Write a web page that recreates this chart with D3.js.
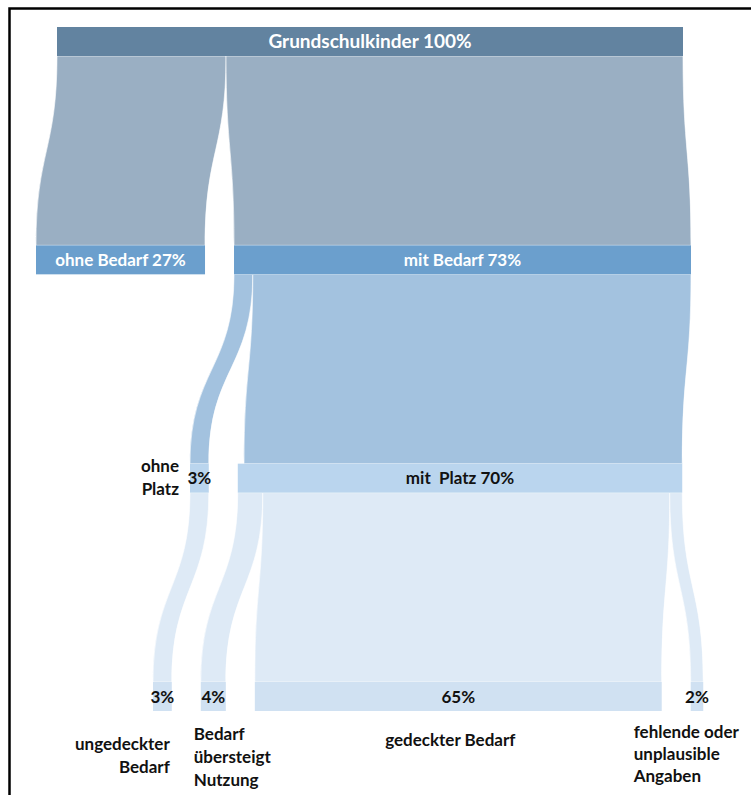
<!DOCTYPE html>
<html>
<head>
<meta charset="utf-8">
<script src="https://cdn.jsdelivr.net/npm/d3@7"></script>
<style>
  html, body { margin: 0; padding: 0; background: #fff; }
  svg { display: block; }
  text { font-family: Lato, "Open Sans", sans-serif; font-weight: 700; }
</style>
</head>
<body>
<script>
// ---------- data ----------
const levels = ["Grundschulkinder", "Bedarf", "Platz", "Ergebnis"];
const nodeNames = ["Grundschulkinder", "ohne Bedarf", "mit Bedarf", "ohne Platz", "mit Platz",
                   "ungedeckter Bedarf", "Bedarf übersteigt Nutzung", "gedeckter Bedarf",
                   "fehlende oder unplausible Angaben"];
const nodeLevel = [0, 1, 1, 2, 2, 3, 3, 3, 3];
const nodeInsideLabels = ["Grundschulkinder 100%", "ohne Bedarf 27%", "mit Bedarf 73%", "3%",
                          "mit  Platz 70%", "3%", "4%", "65%", "2%"];
const linkSource = [0, 0, 2, 2, 3, 4, 4, 4];
const linkTarget = [1, 2, 3, 4, 5, 6, 7, 8];
const linkValues = [27, 73, 3, 70, 3, 4, 65, 2];

// outer labels (multi-line)
const outerLabels = [
  { node: 3, lines: ["ohne", "Platz"] },
  { node: 5, lines: ["ungedeckter", "Bedarf"] },
  { node: 6, lines: ["Bedarf", "übersteigt", "Nutzung"] },
  { node: 7, lines: ["gedeckter Bedarf"] },
  { node: 8, lines: ["fehlende oder", "unplausible", "Angaben"] }
];

// ---------- layout / style ----------
const W = 751, H = 795;
const rowStart = [57, 36, 190, 153];
const nodeGap = 29;
const nodeH = 29;
const nodeColors = ["#6283A0", "#6B9FCD", "#BAD5EE", "#D0E1F2"];
const linkColors = ["#9AAFC3", "#A3C2DF", "#DEEAF6"];
const textColors = ["#ffffff", "#ffffff", "#111111", "#111111"];

const svg = d3.select("body").append("svg").attr("width", W).attr("height", H);

const w = d3.scaleLinear().domain([0, 100]).range([0, 626]);
const yRow = d3.scalePoint().domain(levels).range([27, 682]);

// build nodes
const nodes = nodeNames.map((name, i) => ({
  name, i, level: nodeLevel[i], label: nodeInsideLabels[i], inSum: 0, outSum: 0
}));
const links = linkValues.map((v, i) => ({ source: nodes[linkSource[i]], target: nodes[linkTarget[i]], value: v }));
links.forEach(l => { l.source.outSum += l.value; l.target.inSum += l.value; });
nodes.forEach(n => { n.value = Math.max(n.inSum, n.outSum); n.width = w(n.value); });

// x positions per row
levels.forEach((lv, li) => {
  let x = rowStart[li];
  nodes.filter(n => n.level === li).forEach(n => {
    n.x0 = x; n.x1 = x + n.width; x = n.x1 + nodeGap;
    n.y0 = yRow(lv); n.y1 = n.y0 + nodeH;
  });
});

// link positions
nodes.forEach(n => { n.outOff = n.x0; n.inOff = n.x1 - w(n.inSum); });
links.forEach(l => {
  l.sx0 = l.source.outOff; l.sx1 = l.sx0 + w(l.value); l.source.outOff = l.sx1;
  l.tx0 = l.target.inOff; l.tx1 = l.tx0 + w(l.value); l.target.inOff = l.tx1;
  l.ys = l.source.y1; l.yt = l.target.y0;
});

function linkPath(l) {
  const ym = (l.ys + l.yt) / 2;
  const p = d3.path();
  p.moveTo(l.sx0, l.ys);
  p.bezierCurveTo(l.sx0, ym, l.tx0, ym, l.tx0, l.yt);
  p.lineTo(l.tx1, l.yt);
  p.bezierCurveTo(l.tx1, ym, l.sx1, ym, l.sx1, l.ys);
  p.closePath();
  return p.toString();
}

// links
svg.append("g").selectAll("path").data(links).join("path")
  .attr("d", linkPath)
  .attr("fill", d => linkColors[d.source.level])
  .attr("stroke", "#ffffff").attr("stroke-width", 0.6);

// nodes
svg.append("g").selectAll("rect").data(nodes).join("rect")
  .attr("x", d => d.x0).attr("y", d => d.y0)
  .attr("width", d => d.x1 - d.x0).attr("height", d => d.y1 - d.y0)
  .attr("fill", d => nodeColors[d.level]);

// inside labels
svg.append("g").selectAll("text").data(nodes).join("text")
  .attr("x", d => (d.x0 + d.x1) / 2)
  .attr("y", d => (d.y0 + d.y1) / 2)
  .attr("dy", "0.36em")
  .attr("text-anchor", "middle")
  .style("white-space", "pre")
  .attr("font-size", d => d.level === 0 ? 19 : 17)
  .attr("fill", d => textColors[d.level])
  .text(d => d.label);

// outer labels
const outerPos = {
  3: { x: n => n.x0 - 11, y: n => n.y0 + 8, anchor: "end", lh: 23 },
  5: { x: n => n.x1 - 2, y: n => 750, anchor: "end", lh: 23 },
  6: { x: n => n.x0 - 7, y: n => 740, anchor: "start", lh: 23 },
  7: { x: n => (n.x0 + n.x1) / 2 - 8, y: n => 746, anchor: "middle", lh: 23 },
  8: { x: n => n.x0 - 57, y: n => 738, anchor: "start", lh: 22 }
};
outerLabels.forEach(ol => {
  const n = nodes[ol.node];
  const p = outerPos[ol.node];
  const t = svg.append("text")
    .attr("text-anchor", p.anchor)
    .attr("font-size", 17)
    .attr("fill", "#111");
  ol.lines.forEach((line, k) => {
    t.append("tspan").attr("x", p.x(n)).attr("y", p.y(n) + k * p.lh).text(line);
  });
});

// frame
svg.append("path")
  .attr("d", `M${W},8.5 H9.5 V${H}`)
  .attr("fill", "none").attr("stroke", "#000").attr("stroke-width", 2.5);
</script>
</body>
</html>
